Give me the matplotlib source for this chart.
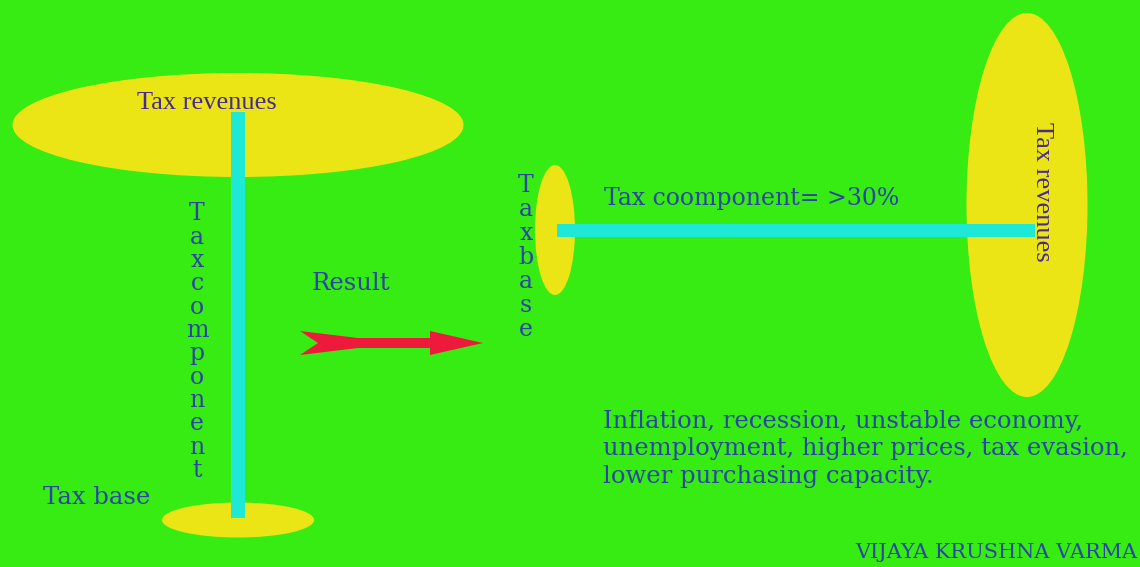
import matplotlib
matplotlib.use("Agg")
import matplotlib.pyplot as plt
from matplotlib.patches import Ellipse, Rectangle, Polygon

W, H = 1140, 567
BG = "#36ec12"
YEL = "#ece516"
CYAN = "#1ee8d6"
RED = "#ee1a3c"
PURPLE = "#4a2a8e"
BLUE = "#2a45a2"
FONT = ["DejaVu Serif"]
FONT2 = ["Liberation Serif", "DejaVu Serif"]

# Ellipses: (cx, cy, width, height)
ellipses = [
    (238, 125, 451, 104),
    (238, 520, 152, 35),
    (555, 230, 40, 130),
    (1027, 205, 121, 384),
]
# Bars: (x, y, width, height)
bars = [
    (231, 112, 14, 406),
    (557, 224, 478, 13),
]
# Arrow outline
arrow_pts = [(300, 331), (358, 338), (430, 338), (430, 331), (483, 343),
             (430, 355), (430, 348), (358, 348), (300, 355), (318, 343)]

left_vertical = "Taxcomponent"
right_vertical = "Taxbase"
paragraph = ("Inflation, recession, unstable economy,\n"
             "unemployment, higher prices, tax evasion,\n"
             "lower purchasing capacity.")

fig = plt.figure(figsize=(W / 100, H / 100), dpi=100)
fig.patch.set_facecolor(BG)
ax = fig.add_axes([0, 0, 1, 1])
ax.set_xlim(0, W)
ax.set_ylim(H, 0)
ax.axis("off")
ax.set_facecolor(BG)

for cx, cy, w, h in ellipses:
    ax.add_patch(Ellipse((cx, cy), w, h, facecolor=YEL, edgecolor="none"))
for x, y, w, h in bars:
    ax.add_patch(Rectangle((x, y), w, h, facecolor=CYAN, edgecolor="none"))
ax.add_patch(Polygon(arrow_pts, closed=True, facecolor=RED, edgecolor="none"))

ax.text(137, 103, "Tax revenues", color=PURPLE, fontsize=19, family=FONT2,
        ha="left", va="center")
for i, ch in enumerate(left_vertical):
    ax.text(197, 214 + i * 23.3, ch, color=BLUE, fontsize=17, family=FONT,
            ha="center", va="center")
ax.text(312, 284, "Result", color=BLUE, fontsize=17.5, family=FONT,
        ha="left", va="center")
ax.text(43, 497, "Tax base", color=BLUE, fontsize=17.5, family=FONT,
        ha="left", va="center")
for i, ch in enumerate(right_vertical):
    ax.text(526, 185 + i * 24, ch, color=BLUE, fontsize=17, family=FONT,
            ha="center", va="center")
ax.text(604, 198, "Tax coomponent= >30%", color=BLUE, fontsize=17, family=FONT,
        ha="left", va="center")
ax.text(1042, 192, "Tax revenues", color=PURPLE, fontsize=19, family=FONT2,
        ha="center", va="center", rotation=-90)
ax.text(603, 449, paragraph, color=BLUE, fontsize=17.5, family=FONT,
        ha="left", va="center", linespacing=1.25)
ax.text(1137, 553, "VIJAYA KRUSHNA VARMA", color=BLUE, fontsize=15, family=FONT,
        ha="right", va="center")

fig.savefig("out.png", dpi=100, facecolor=BG)
